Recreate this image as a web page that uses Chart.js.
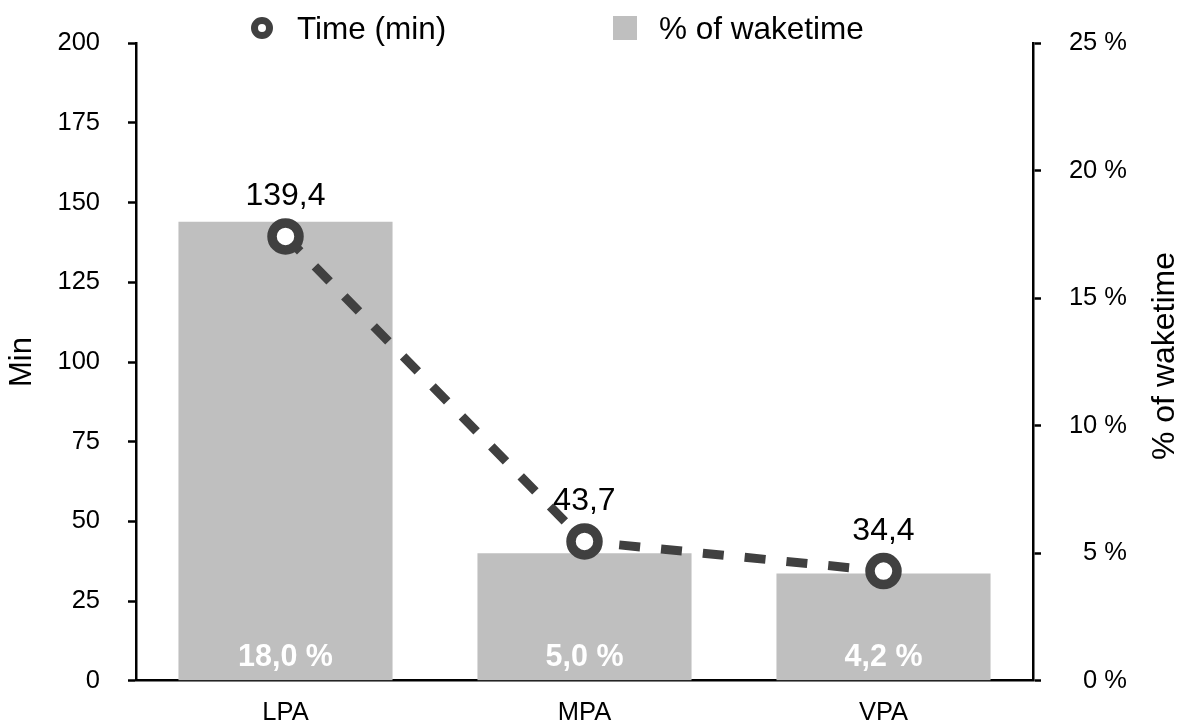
<!DOCTYPE html>
<html>
<head>
<meta charset="utf-8">
<style>
  html, body { margin: 0; padding: 0; background: #ffffff; }
  #wrap { width: 1184px; height: 724px; }
</style>
<script src="https://cdn.jsdelivr.net/npm/chart.js@4/dist/chart.umd.min.js"></script>
</head>
<body>
<div id="wrap"><canvas id="c" width="1184" height="724"></canvas></div>
<script>
// Physical activity categories
const categories = ['LPA', 'MPA', 'VPA'];
// Time spent per category (minutes), left axis
const timeMinutes = [139.4, 43.7, 34.4];
// Share of waketime per category (%), right axis
const wakePercent = [18.0, 5.0, 4.2];
// Axis tick values
const minTicks = [0, 25, 50, 75, 100, 125, 150, 175, 200];
const pctTicks = [0, 5, 10, 15, 20, 25];

const FONT = 'Liberation Sans, Arial, Helvetica, sans-serif';
const LINE_COLOR = '#404040';
const BAR_COLOR = '#bfbfbf';

const fmt = v => v.toFixed(1).replace('.', ',');

// Legend drawn across the top
const topLegend = {
  id: 'topLegend',
  afterDraw(chart) {
    const ctx = chart.ctx;
    const [lineDs, barDs] = chart.data.datasets;
    ctx.save();
    ctx.font = '31.5px ' + FONT;
    ctx.textAlign = 'left';
    ctx.textBaseline = 'alphabetic';
    // line series marker
    ctx.beginPath();
    ctx.arc(262, 28, 7.5, 0, Math.PI * 2);
    ctx.fillStyle = '#fff';
    ctx.fill();
    ctx.lineWidth = 7;
    ctx.strokeStyle = lineDs.pointBorderColor;
    ctx.stroke();
    ctx.fillStyle = '#000';
    ctx.fillText(lineDs.label, 297, 39);
    // bar series swatch
    ctx.fillStyle = barDs.backgroundColor;
    ctx.fillRect(613, 16, 24, 24);
    ctx.fillStyle = '#000';
    ctx.fillText(barDs.label, 659, 39);
    ctx.restore();
  }
};

// Value labels: above line points, inside bar bases
const valueLabels = {
  id: 'valueLabels',
  afterDatasetsDraw(chart) {
    const ctx = chart.ctx;
    ctx.save();
    ctx.textAlign = 'center';
    ctx.textBaseline = 'alphabetic';
    const lineMeta = chart.getDatasetMeta(0);
    ctx.font = '32px ' + FONT;
    ctx.fillStyle = '#000';
    lineMeta.data.forEach((pt, i) => {
      ctx.fillText(fmt(timeMinutes[i]), pt.x, pt.y - 31);
    });
    const barMeta = chart.getDatasetMeta(1);
    ctx.font = 'bold 30.5px ' + FONT;
    ctx.fillStyle = '#ffffff';
    barMeta.data.forEach((bar, i) => {
      ctx.fillText(fmt(wakePercent[i]) + ' %', bar.x, bar.base - 14.5);
    });
    ctx.restore();
  }
};

// Right axis title, reading bottom-to-top
const rightTitle = {
  id: 'rightTitle',
  afterDraw(chart) {
    const ctx = chart.ctx;
    const area = chart.chartArea;
    ctx.save();
    ctx.translate(1165, (area.top + area.bottom) / 2 - 6);
    ctx.rotate(-Math.PI / 2);
    ctx.font = '32px ' + FONT;
    ctx.fillStyle = '#000';
    ctx.textAlign = 'center';
    ctx.textBaseline = 'middle';
    ctx.fillText('% of waketime', 0, 0);
    ctx.restore();
  }
};

const yGrid = {
  display: true,
  drawOnChartArea: false,
  drawTicks: true,
  tickLength: 8,
  tickWidth: 2.5,
  tickColor: '#000'
};

new Chart(document.getElementById('c'), {
  data: {
    labels: categories,
    datasets: [
      {
        type: 'line',
        label: 'Time (min)',
        data: timeMinutes,
        yAxisID: 'yMin',
        borderColor: LINE_COLOR,
        borderWidth: 9,
        borderDash: [21, 21],
        borderCapStyle: 'butt',
        tension: 0,
        fill: false,
        pointRadius: 13.5,
        pointHoverRadius: 13.5,
        pointBorderWidth: 9.5,
        pointHoverBorderWidth: 9.5,
        pointBackgroundColor: '#ffffff',
        pointBorderColor: LINE_COLOR
      },
      {
        type: 'bar',
        label: '% of waketime',
        data: wakePercent,
        yAxisID: 'yPct',
        backgroundColor: BAR_COLOR,
        borderWidth: 0,
        categoryPercentage: 1.0,
        barPercentage: 0.716
      }
    ]
  },
  options: {
    responsive: false,
    devicePixelRatio: 1,
    animation: false,
    layout: { padding: { top: 39.5, left: 0, right: 57, bottom: 0 } },
    plugins: {
      legend: { display: false },
      tooltip: { enabled: false }
    },
    scales: {
      x: {
        type: 'category',
        offset: true,
        grid: { display: false, drawTicks: false },
        border: { display: true, color: '#000', width: 2.5 },
        ticks: {
          color: '#000',
          font: { family: FONT, size: 25.5 },
          padding: 17,
          maxRotation: 0
        },
        afterFit(s) { s.height = 41.5; }
      },
      yMin: {
        type: 'linear',
        position: 'left',
        min: minTicks[0],
        max: minTicks[minTicks.length - 1],
        grid: yGrid,
        border: { display: true, color: '#000', width: 2.5 },
        ticks: {
          stepSize: minTicks[1] - minTicks[0],
          color: '#000',
          font: { family: FONT, size: 25.5 },
          padding: 28
        },
        title: {
          display: true,
          text: 'Min',
          color: '#000',
          font: { family: FONT, size: 31 },
          padding: { top: 4, bottom: 0 }
        },
        afterFit(s) { s.width = 136; }
      },
      yPct: {
        type: 'linear',
        position: 'right',
        min: pctTicks[0],
        max: pctTicks[pctTicks.length - 1],
        grid: yGrid,
        border: { display: true, color: '#000', width: 2.5 },
        ticks: {
          stepSize: pctTicks[1] - pctTicks[0],
          color: '#000',
          font: { family: FONT, size: 25.5 },
          padding: 28,
          crossAlign: 'far',
          callback: v => v + ' %'
        },
        afterFit(s) { s.width = 94; }
      }
    }
  },
  plugins: [topLegend, valueLabels, rightTitle]
});
</script>
</body>
</html>
